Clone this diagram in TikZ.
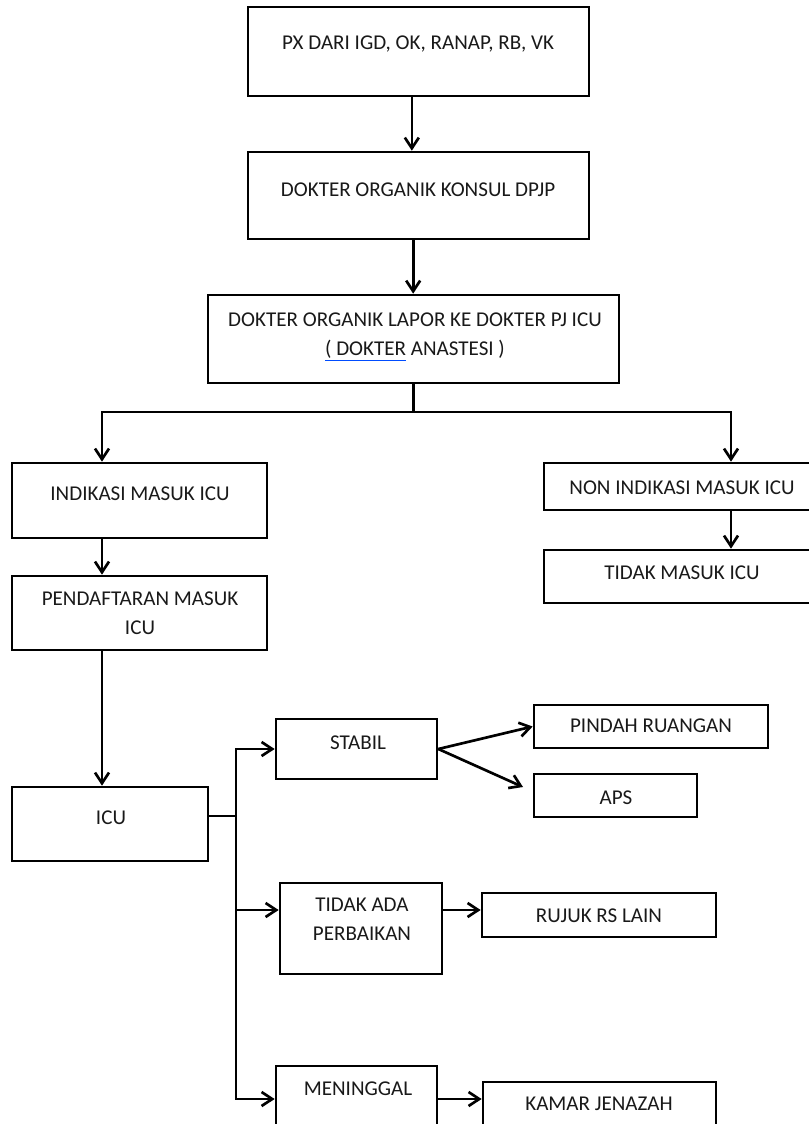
\documentclass[tikz,border=0pt]{standalone}
\usepackage{fontspec}
\setmainfont{Carlito}
\usetikzlibrary{arrows.meta,fit}

\begin{document}
\begin{tikzpicture}
  [x=0.75pt,y=-0.75pt,line width=2pt,>={Straight Barb[length=8pt,width=10.5pt]},
   box/.style={draw,rectangle,inner sep=0pt,fit={#1}},
   txt/.style={anchor=base,align=center,text=black!90,font=\fontsize{15.8}{21.5}\selectfont}]
  \useasboundingbox (0,0) rectangle (809,1124);
  \clip (0,0) rectangle (809,1124);

  \node (px) [box={(248,7) (589,96)}] {};
  \node (konsul) [box={(248,152) (589,239)}] {};
  \node (lapor) [box={(208,295) (619,383)}] {};
  \node (indikasi) [box={(12,463) (267,538)}] {};
  \node (daftar) [box={(12,576) (267,650)}] {};
  \node (icu) [box={(12,787) (208,861)}] {};
  \node (nonind) [box={(544,463) (822,510)}] {};
  \node (tidakmasuk) [box={(544,550) (822,603)}] {};
  \node (stabil) [box={(276,719) (437,779)}] {};
  \node (pindah) [box={(534,705) (768,748)}] {};
  \node (aps) [box={(534,774) (697,817)}] {};
  \node (tidakada) [box={(280,883) (442,974)}] {};
  \node (rujuk) [box={(482,893) (716,937)}] {};
  \node (meninggal) [box={(276,1066) (437,1150)}] {};
  \node (jenazah) [box={(483,1082) (716,1150)}] {};

  % multi-line texts sit on the baseline of their last line
  \node (px-t) [txt] at (418,50) {PX DARI IGD, OK, RANAP, RB, VK};
  \node (konsul-t) [txt] at (418,196) {DOKTER ORGANIK KONSUL DPJP};
  \node (lapor-t) [txt] at (415,355) {DOKTER ORGANIK LAPOR KE DOKTER PJ ICU\\
    {\color{blue!70!cyan}\underline{\color{black!90}( DOKTER}} ANASTESI )};
  \node (indikasi-t) [txt] at (140,500) {INDIKASI MASUK ICU};
  \node (daftar-t) [txt] at (140,634) {PENDAFTARAN MASUK\\ICU};
  \node (icu-t) [txt] at (111,824) {ICU};
  \node (nonind-t) [txt] at (682,494) {NON INDIKASI MASUK ICU};
  \node (tidakmasuk-t) [txt] at (682,579) {TIDAK MASUK ICU};
  \node (stabil-t) [txt] at (358,749) {STABIL};
  \node (pindah-t) [txt] at (651,732) {PINDAH RUANGAN};
  \node (aps-t) [txt] at (616,804) {APS};
  \node (tidakada-t) [txt] at (362,940) {TIDAK ADA\\PERBAIKAN};
  \node (rujuk-t) [txt] at (599,922) {RUJUK RS LAIN};
  \node (meninggal-t) [txt] at (358,1095) {MENINGGAL};
  \node (jenazah-t) [txt] at (599,1110) {KAMAR JENAZAH};

  \coordinate (sl) at (102,412);
  \coordinate (sr) at (731,412);
  \coordinate (tt) at (236,816);
  \coordinate (ta) at (236,910);
  \coordinate (tb) at (236,1099);
  \coordinate (apsin) at (523,787);

  \draw[->] ([xshift=-5pt]px.south) -- ([xshift=-5pt]konsul.north);
  \draw[->] ([xshift=-4pt]konsul.south) -- ([xshift=-4pt]konsul.south |- lapor.north);
  \draw (lapor) -- (lapor |- sl);
  \draw[<->] (sl |- indikasi.north) -- (sl) -- (sr) -- (sr |- nonind.north);
  \draw[->] (sl |- indikasi.south) -- (sl |- daftar.north);
  \draw[->] (sl |- daftar.south) -- (sl |- icu.north);
  \draw[->] (sr |- nonind.south) -- (sr |- tidakmasuk.north);

  \draw (icu.east |- tt) -- (tt);
  \draw[<->] (stabil.west) -- (stabil.west -| tb) -- (tb) -- (tb -| meninggal.west);
  \draw[->] (ta) -- (ta -| tidakada.west);
  \draw[->] (ta -| tidakada.east) -- (ta -| rujuk.west);
  \draw[->] (tb -| meninggal.east) -- (tb -| jenazah.west);
  \draw[->] (stabil.east) -- (pindah.west);
  \draw[->] (stabil.east) -- (apsin);
\end{tikzpicture}
\end{document}
